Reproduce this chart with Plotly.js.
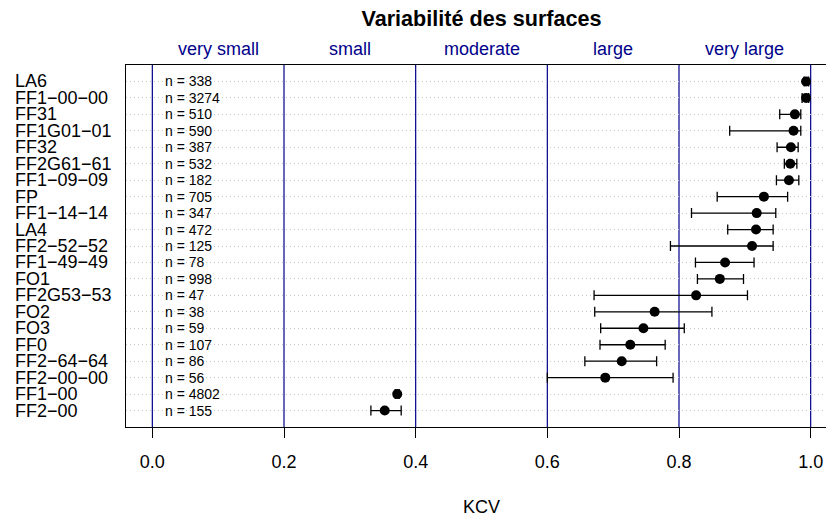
<!DOCTYPE html>
<html>
<head>
<meta charset="utf-8">
<script src="https://cdn.plot.ly/plotly-3.0.1.min.js"></script>
<style>
html, body { margin: 0; padding: 0; overflow: hidden; background: #fff; }
#chart { width: 837px; height: 517px; }
</style>
</head>
<body>
<div id="chart"></div>
<script>
// Categories (top to bottom)
const categories = ["LA6", "FF1−00−00", "FF31", "FF1G01−01", "FF32", "FF2G61−61", "FF1−09−09", "FP",
  "FF1−14−14", "LA4", "FF2−52−52", "FF1−49−49", "FO1", "FF2G53−53", "FO2", "FO3", "FF0",
  "FF2−64−64", "FF2−00−00", "FF1−00", "FF2−00"];
const kcv   = [0.993, 0.993, 0.976, 0.974, 0.970, 0.969, 0.967, 0.929, 0.918, 0.917, 0.911, 0.870, 0.862, 0.826, 0.763, 0.746, 0.726, 0.713, 0.688, 0.372, 0.353];
const lower = [0.990, 0.987, 0.953, 0.877, 0.949, 0.960, 0.948, 0.858, 0.819, 0.874, 0.787, 0.825, 0.828, 0.671, 0.672, 0.681, 0.680, 0.657, 0.600, 0.369, 0.332];
const upper = [0.997, 0.997, 0.985, 0.985, 0.981, 0.979, 0.982, 0.965, 0.947, 0.943, 0.943, 0.914, 0.898, 0.904, 0.850, 0.808, 0.779, 0.766, 0.791, 0.375, 0.378];
const nObs  = [338, 3274, 510, 590, 387, 532, 182, 705, 347, 472, 125, 78, 998, 47, 38, 59, 107, 86, 56, 4802, 155];
// Class boundaries and labels
const bounds = [0, 0.2, 0.4, 0.6, 0.8, 1.0];
const classLabels = ["very small", "small", "moderate", "large", "very large"];
const tickLabels = ["0.0", "0.2", "0.4", "0.6", "0.8", "1.0"];

const FONT = "Liberation Sans, Arial, Helvetica, sans-serif";
const BLUE = "#00008B";

const trace = {
  type: "scatter",
  mode: "markers",
  x: kcv,
  y: categories,
  marker: { color: "black", size: 10 },
  error_x: {
    type: "data", symmetric: false,
    array: upper.map((u, i) => u - kcv[i]),
    arrayminus: lower.map((l, i) => kcv[i] - l),
    color: "black", thickness: 1.3, width: 5
  },
  hoverinfo: "skip",
  showlegend: false,
  cliponaxis: false
};

const annotations = [];
categories.forEach((c, i) => {
  annotations.push({
    xref: "paper", yref: "y", x: -113 / 711, y: c, xanchor: "left", yanchor: "middle",
    text: c, showarrow: false, font: { family: FONT, size: 18, color: "black" }
  });
  annotations.push({
    xref: "x", yref: "y", x: 0.0167, y: c, xanchor: "left", yanchor: "middle",
    text: "n = " + nObs[i], showarrow: false, font: { family: FONT, size: 14, color: "black" }
  });
});
classLabels.forEach((lab, i) => {
  annotations.push({
    xref: "x", yref: "paper", x: (bounds[i] + bounds[i + 1]) / 2, y: 1,
    xanchor: "center", yanchor: "middle", yshift: 16,
    text: lab, showarrow: false, font: { family: FONT, size: 18, color: BLUE }
  });
});
annotations.push({
  xref: "paper", yref: "paper", x: 0.5, y: 0, xanchor: "center", yanchor: "middle", yshift: -80,
  text: "KCV", showarrow: false, font: { family: FONT, size: 18, color: "black" }
});

const shapes = bounds.map(b => ({
  type: "line", xref: "x", yref: "paper", x0: b, x1: b, y0: 0, y1: 1,
  line: { color: BLUE, width: 1.2 }, layer: "between"
}));

const layout = {
  width: 837, height: 517,
  margin: { l: 126, r: 0, t: 65, b: 90, pad: 0 },
  paper_bgcolor: "white", plot_bgcolor: "white",
  font: { family: FONT, size: 18, color: "black" },
  title: {
    text: "<b>Variabilité des surfaces</b>",
    font: { family: FONT, size: 21.6, color: "black" },
    x: 0.5, xref: "paper", xanchor: "center",
    y: 1 - 18.5 / 517, yref: "container", yanchor: "middle"
  },
  xaxis: {
    range: [-0.04, 1.04], tickvals: bounds, ticktext: tickLabels,
    ticks: "outside", ticklen: 10, tickwidth: 1, tickcolor: "black",
    tickfont: { family: FONT, size: 18, color: "black" },
    showgrid: false, zeroline: false,
    showline: true, mirror: true, linecolor: "black", linewidth: 1,
    ticklabelstandoff: 8
  },
  yaxis: {
    type: "category", categoryorder: "array", categoryarray: categories.slice().reverse(),
    range: [-1, 21], showticklabels: false, ticks: "",
    showgrid: true, gridcolor: "#c8c8c8", gridwidth: 1, griddash: "1px,3px",
    zeroline: false, showline: true, mirror: true, linecolor: "black", linewidth: 1
  },
  annotations: annotations,
  shapes: shapes
};

Plotly.newPlot("chart", [trace], layout, { staticPlot: true, displayModeBar: false });
</script>
</body>
</html>
